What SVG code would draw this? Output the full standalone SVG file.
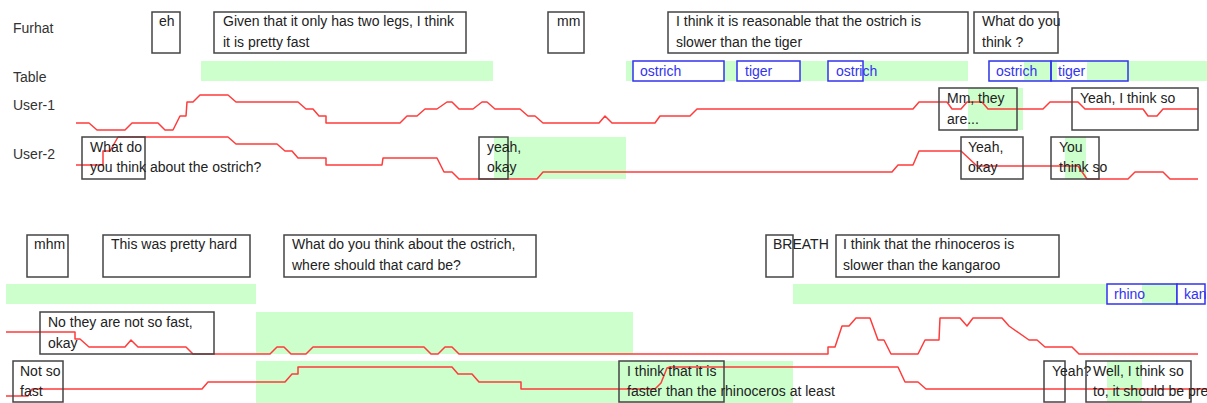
<svg xmlns="http://www.w3.org/2000/svg" width="1207" height="403" viewBox="0 0 1207 403">
<style>
text{font-family:"Liberation Sans",Arial,sans-serif;font-size:14px;fill:#222}
.lbl{fill:#333}
.g{fill:#ccffcc}
.box{fill:none;stroke:#444;stroke-width:1.5}
.bb{fill:#fff;stroke:#3333ee;stroke-width:1.5}
.bbo{fill:none;stroke:#3333ee;stroke-width:1.5}
.bt{fill:#3333ee}
.w{fill:#fff}
.tr{fill:none;stroke:#ff3b3b;stroke-width:1.5;stroke-linejoin:round}
</style>
<rect width="1207" height="403" fill="#fff"/>

<g id="row-labels">
<text class="lbl" x="13" y="33">Furhat</text>
<text class="lbl" x="13" y="82">Table</text>
<text class="lbl" x="13" y="110">User-1</text>
<text class="lbl" x="13" y="159">User-2</text>
</g>

<g id="green-areas">
<rect class="g" x="201" y="61" width="292" height="20"/>
<rect class="g" x="626" y="61" width="342" height="20"/>
<rect class="g" x="988" y="61" width="219" height="20"/>
<rect class="g" x="968" y="88" width="55" height="42"/>
<rect class="g" x="494" y="137" width="132" height="42"/>
<rect class="g" x="1065" y="137" width="21" height="42"/>
<rect class="g" x="6" y="284" width="250" height="20"/>
<rect class="g" x="793" y="284" width="314" height="20"/>
<rect class="g" x="1142" y="284" width="35" height="20"/>
<rect class="g" x="256" y="312" width="377" height="42"/>
<rect class="g" x="256" y="361" width="537" height="42"/>
<rect class="g" x="1107" y="361" width="35" height="41"/>
</g>

<g id="traces">
<polyline class="tr" points="76,123 89,123 97,130 125,130 132,123 158,123 165,130 173,130 180,116 186,116 187,102 193,102 200,95 228,95 236,102 298,102 306,109 313,109 319,116 326,116 326,123 400,123 407,116 417,116 425,109 437,109 447,102 452,102 459,109 473,109 482,102 487,102 495,109 520,109 528,116 535,116 543,123 599,123 605,116 612,123 655,123 660,116 690,116 697,109 913,109 919,102 947,102 952,109 961,109 967,102 982,102 988,109 1043,109 1050,102 1078,102 1085,109 1143,109 1148,116 1157,116 1163,109 1198,109"/>
<polyline class="tr" points="76,165 103,165 103,151 110,151 118,137 228,137 236,144 277,144 285,151 292,151 298,158 326,158 326,165 382,165 383,158 437,158 444,172 452,172 459,179 537,179 543,172 892,172 898,165 913,165 919,151 961,151 977,166 1078,166 1087,179 1128,179 1135,172 1163,172 1170,179 1198,179"/>
<polyline class="tr" points="6,332 75,332 75,339 80,339 89,347 125,347 131,340 138,347 186,347 193,354 270,354 277,347 284,347 291,354 306,354 313,347 424,347 431,354 438,354 445,347 452,347 459,354 828,354 828,347 835,347 842,326 849,326 856,318 870,318 878,340 884,340 891,354 918,354 925,340 939,340 940,318 960,318 967,326 973,318 1002,318 1009,326 1029,340 1037,340 1045,347 1072,347 1079,354 1198,354"/>
<polyline class="tr" points="6,396 28,396 32,389 202,389 208,382 285,382 292,374 298,374 298,367 452,367 458,374 472,374 479,382 521,382 521,389 655,389 661,383 667,368 670,367 898,367 905,382 918,382 926,389 1207,389"/>
</g>

<g id="furhat-eh"><rect class="box" x="152" y="12" width="28" height="41"/><text x="159" y="26">eh</text></g>
<g id="furhat-given"><rect class="box" x="214" y="12" width="252" height="41"/><text x="223" y="26">Given that it only has two legs, I think</text><text x="223" y="47">it is pretty fast</text></g>
<g id="furhat-mm"><rect class="box" x="548" y="12" width="36" height="41"/><text x="557" y="26">mm</text></g>
<g id="furhat-reasonable"><rect class="box" x="668" y="12" width="300" height="41"/><text x="676" y="26">I think it is reasonable that the ostrich is</text><text x="676" y="47">slower than the tiger</text></g>
<g id="furhat-whatdoyou"><rect class="box" x="974" y="12" width="84" height="41"/><text x="982" y="26">What do you</text><text x="982" y="47">think ?</text></g>

<g id="table-ostrich-1"><rect class="bb" x="633" y="61" width="91" height="20"/><text class="bt" x="640" y="76">ostrich</text></g>
<g id="table-tiger-1"><rect class="bb" x="737" y="61" width="63" height="20"/><text class="bt" x="745" y="76">tiger</text></g>
<g id="table-ostrich-2"><rect class="bb" x="828" y="61" width="35" height="20"/><text class="bt" x="836" y="76">ostrich</text></g>
<g id="table-ostrich-3"><rect class="w" x="989" y="62" width="35" height="18"/><rect class="w" x="1057" y="62" width="30" height="18"/><rect class="bbo" x="989" y="61" width="62" height="20"/><text class="bt" x="996" y="76">ostrich</text></g>
<g id="table-tiger-2"><rect class="bbo" x="1051" y="61" width="77" height="20"/><text class="bt" x="1058" y="76">tiger</text></g>

<g id="user1-mm-they"><rect class="box" x="939" y="88" width="78" height="42"/><text x="947" y="103">Mm, they</text><text x="947" y="124">are...</text></g>
<g id="user1-yeah-think"><rect class="box" x="1072" y="88" width="126" height="42"/><text x="1080" y="103">Yeah, I think so</text></g>

<g id="user2-what-do"><rect class="box" x="82" y="137" width="63" height="42"/><text x="90" y="152">What do</text><text x="90" y="172">you think about the ostrich?</text></g>
<g id="user2-yeah-okay-1"><rect class="box" x="479" y="137" width="29" height="42"/><text x="487" y="152">yeah,</text><text x="487" y="172">okay</text></g>
<g id="user2-yeah-okay-2"><rect class="box" x="961" y="137" width="62" height="42"/><text x="968" y="152">Yeah,</text><text x="968" y="172">okay</text></g>
<g id="user2-you-think"><rect class="box" x="1051" y="137" width="48" height="42"/><text x="1059" y="152">You</text><text x="1059" y="172">think so</text></g>

<g id="furhat-mhm"><rect class="box" x="27" y="235" width="41" height="42"/><text x="34" y="249">mhm</text></g>
<g id="furhat-hard"><rect class="box" x="103" y="235" width="147" height="42"/><text x="111" y="249">This was pretty hard</text></g>
<g id="furhat-where"><rect class="box" x="284" y="235" width="252" height="42"/><text x="292" y="249">What do you think about the ostrich,</text><text x="292" y="270">where should that card be?</text></g>
<g id="furhat-breath"><rect class="box" x="766" y="235" width="27" height="42"/><text x="773" y="249">BREATH</text></g>
<g id="furhat-rhino"><rect class="box" x="836" y="235" width="223" height="42"/><text x="843" y="249">I think that the rhinoceros is</text><text x="843" y="270">slower than the kangaroo</text></g>

<g id="table-rhino"><rect class="w" x="1107" y="284" width="35" height="20"/><rect class="bbo" x="1107" y="284" width="70" height="20"/><text class="bt" x="1114" y="299">rhino</text></g>
<g id="table-kan"><rect class="bb" x="1177" y="284" width="28" height="20"/><text class="bt" x="1184" y="299">kan</text></g>

<g id="user1-not-so-fast"><rect class="box" x="40" y="312" width="174" height="42"/><text x="48" y="327">No they are not so fast,</text><text x="48" y="348">okay</text></g>

<g id="user2-not-so"><rect class="box" x="13" y="361" width="50" height="41"/><text x="20" y="376">Not so</text><text x="20" y="396">fast</text></g>
<g id="user2-faster"><rect class="box" x="619" y="361" width="105" height="41"/><text x="627" y="376">I think that it is</text><text x="627" y="396">faster than the rhinoceros at least</text></g>
<g id="user2-yeah-q"><rect class="box" x="1044" y="361" width="21" height="41"/><text x="1052" y="376">Yeah?</text></g>
<g id="user2-well"><rect class="box" x="1086" y="361" width="105" height="41"/><text x="1093" y="376">Well, I think so</text><text x="1093" y="396">to, it should be pre</text></g>
</svg>
